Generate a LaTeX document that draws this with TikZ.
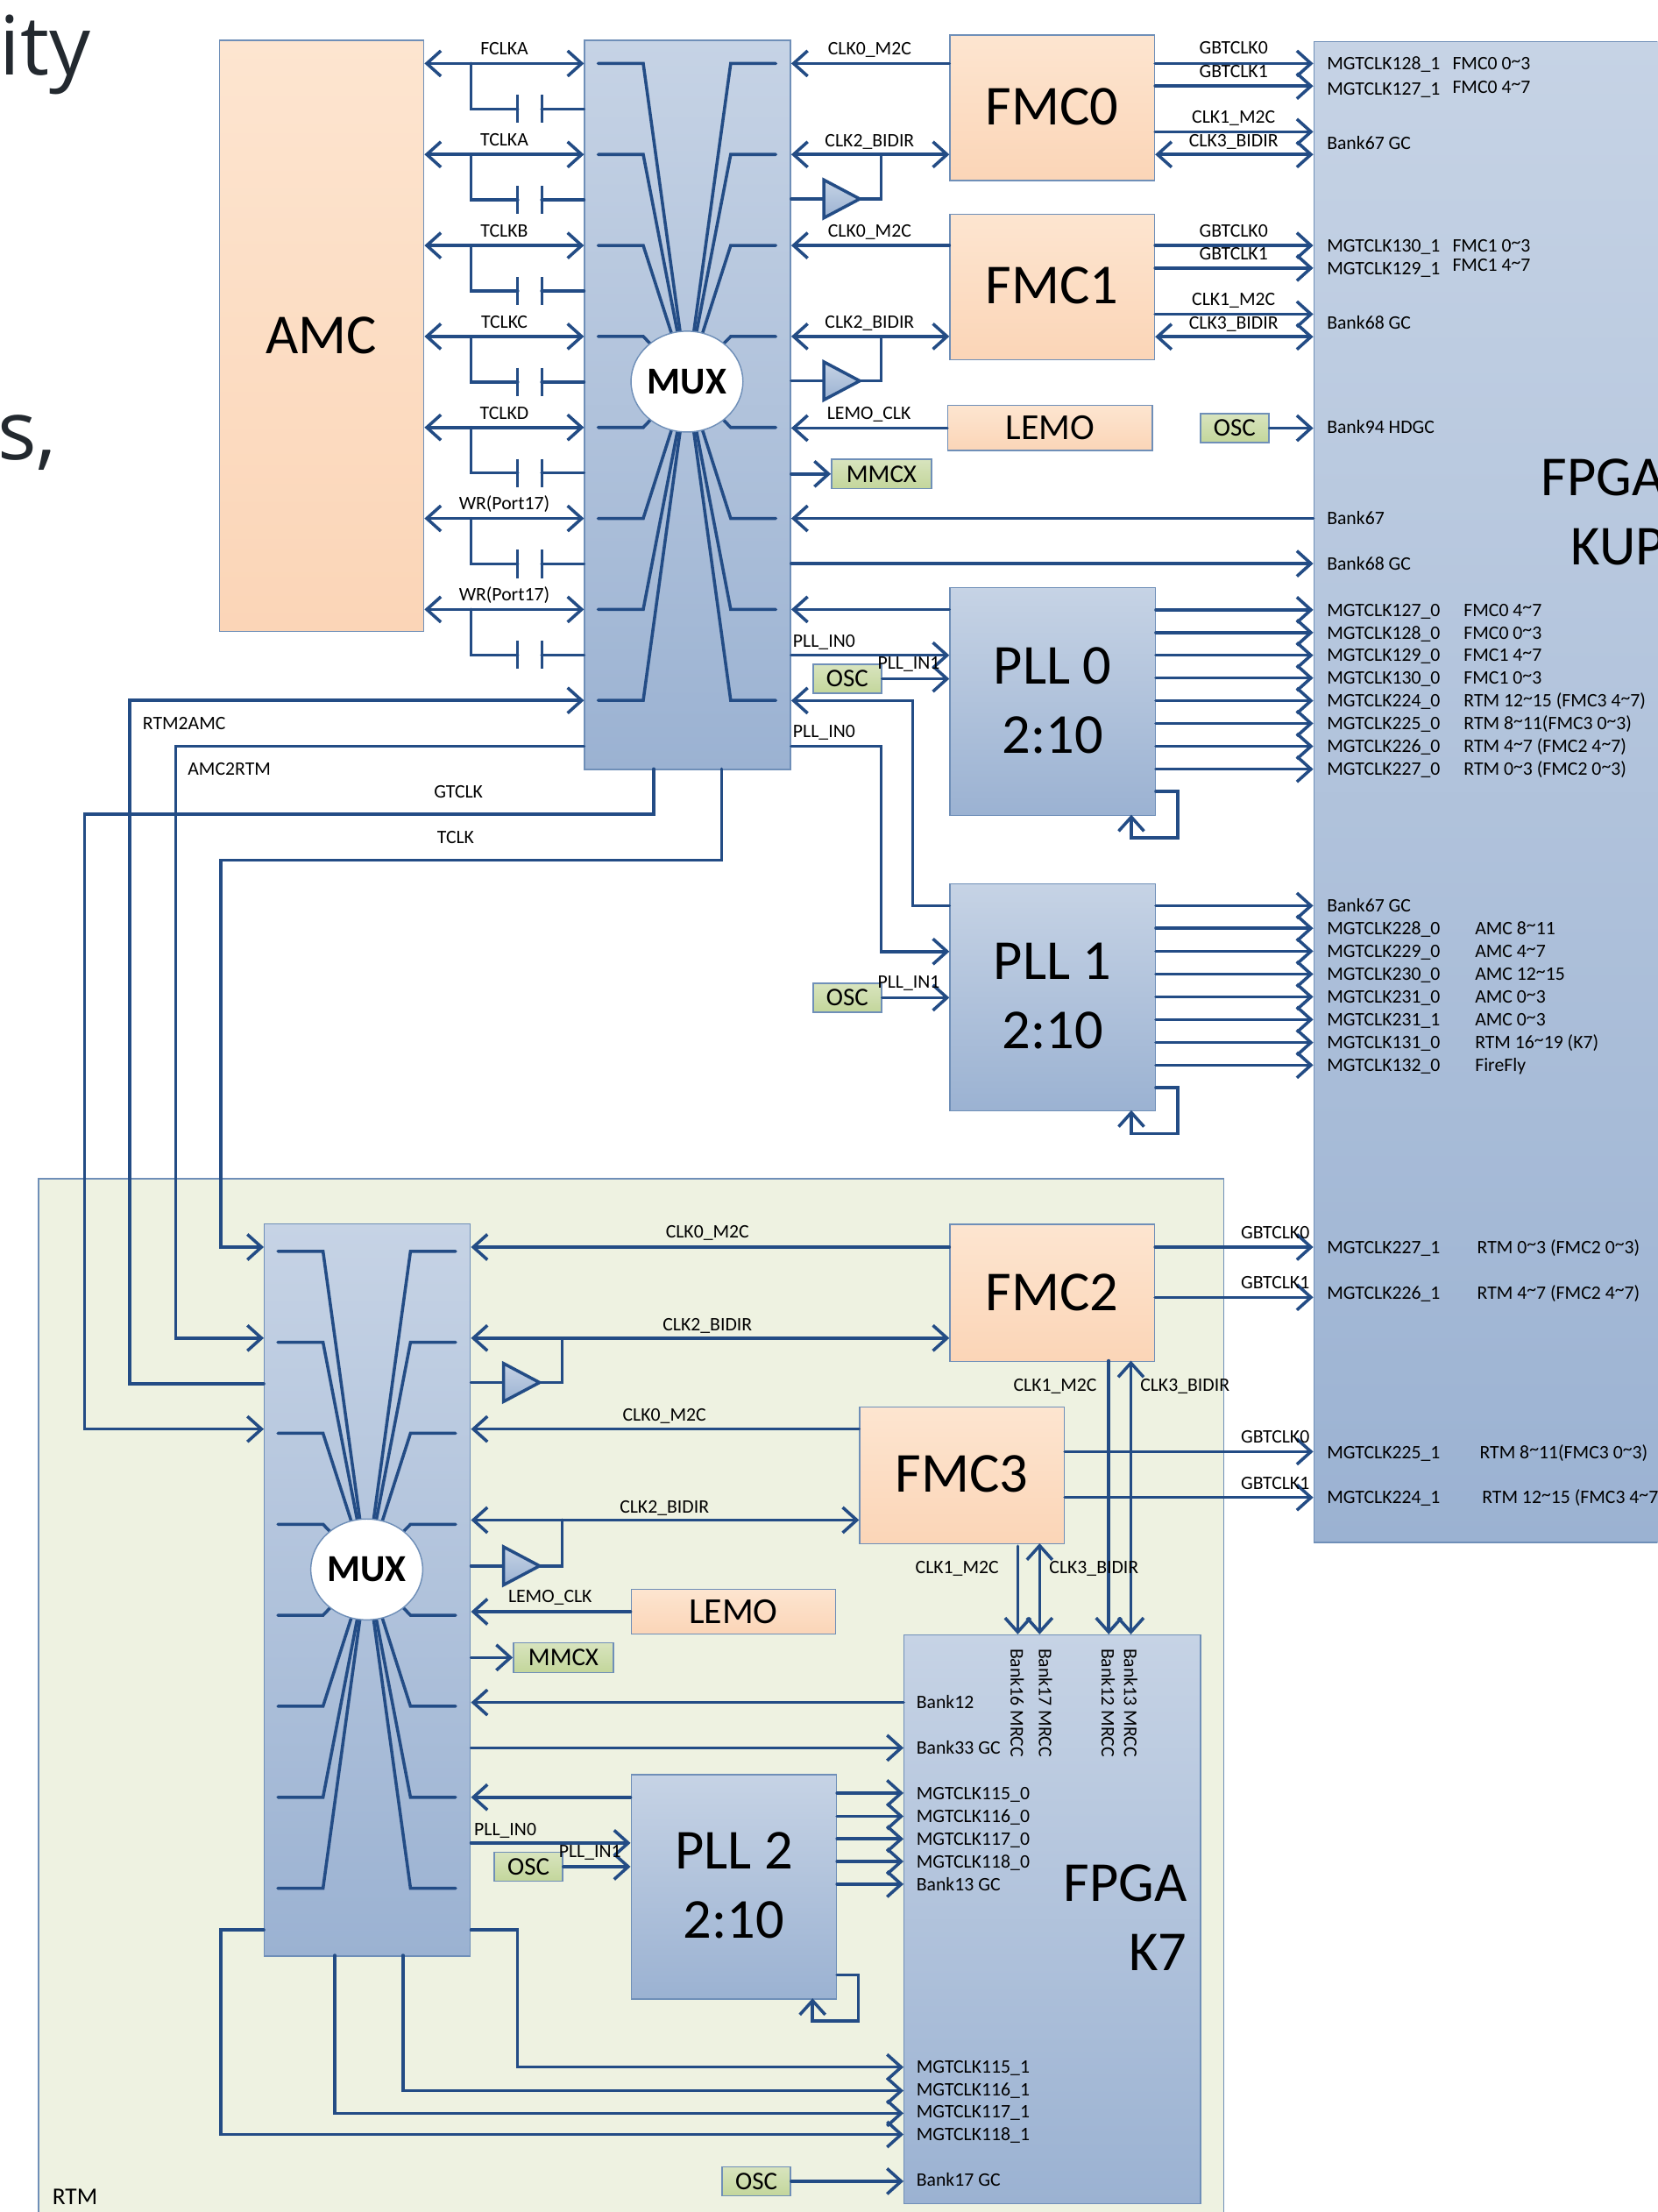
\documentclass[tikz,border=0pt]{standalone}
\usepackage{fontspec}
\setmainfont{Carlito}
\newfontfamily\slidefont{Open Sans}
\usetikzlibrary{arrows.meta,shapes.geometric}
\definecolor{clkblue}{HTML}{234C85}
\definecolor{boxedge}{HTML}{6F8FB8}
\definecolor{bluetop}{HTML}{C6D3E5}
\definecolor{bluebot}{HTML}{9BB2D2}
\definecolor{orangetop}{HTML}{FDE5D0}
\definecolor{orangebot}{HTML}{FBD5B7}
\definecolor{greentop}{HTML}{D8E4BE}
\definecolor{greenbot}{HTML}{C3D69B}
\definecolor{rtmgreen}{HTML}{EEF2E1}
\definecolor{slidetext}{HTML}{23292F}
\newcommand{\til}{\raisebox{2.2pt}{\textasciitilde}}
\tikzset{
 blk/.style={draw=boxedge,line width=0.9pt,inner sep=0pt,anchor=north west},
 bluebox/.style={blk,top color=bluetop,bottom color=bluebot,font=\fontsize{40}{49}\selectfont,align=center,text depth=2pt},
 orangebox/.style={blk,top color=orangetop,bottom color=orangebot,font=\fontsize{40}{49}\selectfont},
 greenbox/.style={blk,top color=greentop,bottom color=greenbot,font=\fontsize{18}{20}\selectfont},
 muxhub/.style={draw=boxedge,line width=0.9pt,fill=white,ellipse,inner sep=0pt,minimum width=79pt,minimum height=71.5pt,font=\fontsize{27}{30}\selectfont\bfseries},
 lab/.style={inner sep=0pt,text height=9pt,text depth=0pt,font=\fontsize{13.5}{16}\selectfont},
 labl/.style={lab,anchor=west},
 bigname/.style={inner sep=0pt,anchor=base west,font=\fontsize{40}{49}\selectfont},
 clkline/.style={draw=clkblue,line width=2.2pt,line cap=round},
 fanline/.style={clkline},
 capline/.style={draw=clkblue,line width=1.9pt},
 toclk/.style={clkline,-{Straight Barb[length=10pt,width=18pt]}},
 bothclk/.style={clkline,{Straight Barb[length=10pt,width=18pt]}-{Straight Barb[length=10pt,width=18pt]}},
 buftri/.style={draw=clkblue,line width=2.2pt,line join=miter,top color=bluetop,bottom color=bluebot},
}
\begin{document}
\begin{tikzpicture}[x=1pt,y=-1pt]
 \useasboundingbox (0,0) rectangle (1175,1568);
 \clip (0,0) rectangle (1175,1568);
 \node[inner sep=0pt,anchor=base west,text=slidetext,font=\fontsize{58}{60}\selectfont\slidefont] (slidea) at (-0.5,53) {ity};
 \node[inner sep=0pt,anchor=base west,text=slidetext,font=\fontsize{58}{60}\selectfont\slidefont] (slideb) at (-2,326) {s,};
 \node[blk,fill=rtmgreen,minimum width=840pt,minimum height=760pt] (rtm) at (27,835) {};
 \node[inner sep=0pt,anchor=west,font=\fontsize{17}{20}\selectfont] (rtmname) at (37,1557) {RTM};
 \node[orangebox,minimum width=145pt,minimum height=419pt] (amc) at (155,28) {AMC};
 \node[bluebox,minimum width=146pt,minimum height=517pt] (muxa) at (414,28) {};
 \node[bluebox,minimum width=146pt,minimum height=519pt] (muxb) at (187,867) {};
 \node[bluebox,minimum width=270pt,minimum height=1064pt] (fpgaa) at (931,29) {};
 \node[bluebox,minimum width=210pt,minimum height=403pt] (fpgab) at (640.5,1158.5) {};
 \node[orangebox,text depth=2pt,minimum width=145pt,minimum height=103pt] (fmca) at (673,24.5) {FMC0};
 \node[orangebox,text depth=2pt,minimum width=145pt,minimum height=103pt] (fmcb) at (673,151.5) {FMC1};
 \node[orangebox,minimum width=145pt,minimum height=97pt] (fmcc) at (673,867.5) {FMC2};
 \node[orangebox,text depth=2pt,minimum width=145pt,minimum height=97pt] (fmcd) at (609,997) {FMC3};
 \node[orangebox,font=\fontsize{26}{30}\selectfont,minimum width=145pt,minimum height=32pt] (lemoa) at (671.5,287) {LEMO};
 \node[orangebox,font=\fontsize{26}{30}\selectfont,minimum width=145pt,minimum height=32pt] (lemob) at (447,1126) {LEMO};
 \node[greenbox,minimum width=71pt,minimum height=21pt] (mmcxa) at (589,325) {MMCX};
 \node[greenbox,minimum width=71pt,minimum height=21pt] (mmcxb) at (363.5,1164) {MMCX};
 \node[greenbox,minimum width=48.5pt,minimum height=20.5pt] (osca) at (850.5,292.8) {OSC};
 \node[greenbox,minimum width=48.5pt,minimum height=20.5pt] (oscb) at (576,470.5) {OSC};
 \node[greenbox,minimum width=48.5pt,minimum height=20.5pt] (oscc) at (576,696.5) {OSC};
 \node[greenbox,minimum width=48.5pt,minimum height=20.5pt] (oscd) at (350,1312.5) {OSC};
 \node[greenbox,minimum width=48.5pt,minimum height=20.5pt] (osce) at (511.5,1535.5) {OSC};
 \node[bluebox,minimum width=145.5pt,minimum height=161.5pt] (plla) at (673,416) {PLL 0\\2:10};
 \node[bluebox,minimum width=145.5pt,minimum height=161pt] (pllb) at (673,626) {PLL 1\\2:10};
 \node[bluebox,minimum width=145.5pt,minimum height=159pt] (pllc) at (447,1257.5) {PLL 2\\2:10};
 \node[bigname] (fpgaaname) at (1092.5,351.6) {FPGA};
 \node[bigname] (fpgaakind) at (1113.5,400.6) {KUP};
 \node[bigname,anchor=base east] (fpgabname) at (841.5,1348) {FPGA};
 \node[bigname,anchor=base east] (fpgabkind) at (841.5,1397) {K7};

 \foreach \cx/\cy/\ry in {487/270.5/45,260/1112.5/887}{
  \foreach \k in {0,...,7}{
   \pgfmathsetmacro\yy{\ry+64.5*\k}
   \draw[fanline] (\cx-63,\yy) -- (\cx-31,\yy) -- (\cx,\cy);
   \draw[fanline] (\cx+63,\yy) -- (\cx+31,\yy) -- (\cx,\cy);
  }
 }
 \node[muxhub] (huba) at (487,270.5) {MUX};
 \node[muxhub] (hubb) at (260,1112.5) {MUX};

 \foreach \y/\t [count=\i] in {45/FCLKA,109.5/TCLKA,174/TCLKB,238.5/TCLKC,303/TCLKD,367.5/WR(Port17),432/WR(Port17)}{
  \draw[bothclk] (amc.east |- 0,\y) -- (muxa.west |- 0,\y);
  \draw[clkline] (334,\y) |- (367,\y+32.25);
  \draw[capline] (367,\y+22.25) -- (367,\y+42.25);
  \draw[capline] (384,\y+22.25) -- (384,\y+42.25);
  \draw[clkline] (384,\y+32.25) -- (muxa.west |- 0,\y+32.25);
  \node[lab] (amclab\i) at (357.5,\y-10.5) {\t};
 }

 \draw[toclk] (fmca.west |- 0,45) -- (muxa.east |- 0,45);
 \draw[bothclk] (muxa.east |- 0,109.5) -- (fmca.west |- 0,109.5);
 \draw[toclk] (fmcb.west |- 0,174) -- (muxa.east |- 0,174);
 \draw[bothclk] (muxa.east |- 0,238.5) -- (fmcb.west |- 0,238.5);
 \draw[toclk] (lemoa.west) -- (muxa.east |- lemoa.west);
 \draw[toclk] (muxa.east |- mmcxa.west) -- (mmcxa.west);
 \draw[toclk] (fpgaa.west |- 0,367.5) -- (muxa.east |- 0,367.5);
 \draw[toclk] (muxa.east |- 0,399.5) -- (fpgaa.west |- 0,399.5);
 \draw[toclk] (plla.west |- 0,432) -- (muxa.east |- 0,432);
 \draw[toclk] (muxa.east |- 0,464.5) -- (plla.west |- 0,464.5);
 \draw[toclk] (oscb.east) -- (plla.west |- oscb.east);
 \draw[toclk] (pllb.west |- 0,642) -| (647,496.6) -- (muxa.east |- 0,496.6);
 \draw[toclk] (muxa.east |- 0,529) -| (624.6,674.5) -- (pllb.west |- 0,674.5);
 \draw[toclk] (oscc.east) -- (pllb.west |- oscc.east);

 \draw[toclk] (muxb.west |- 0,980.8) -| (92,496.5) -- (muxa.west |- 0,496.5);
 \draw[toclk] (muxa.west |- 0,529) -| (124.5,948.5) -- (muxb.west |- 0,948.5);
 \draw[toclk] (463.4,545) |- (59.9,577) |- (muxb.west |- 0,1013);
 \draw[toclk] (511.7,545) |- (156.6,609.7) |- (muxb.west |- 0,884);

 \draw[toclk] (fmcc.west |- 0,884) -- (muxb.east |- 0,884);
 \draw[bothclk] (muxb.east |- 0,948.5) -- (fmcc.west |- 0,948.5);
 \draw[toclk] (fmcd.west |- 0,1013) -- (muxb.east |- 0,1013);
 \draw[bothclk] (muxb.east |- 0,1077.5) -- (fmcd.west |- 0,1077.5);
 \draw[toclk] (lemob.west) -- (muxb.east |- lemob.west);
 \draw[toclk] (muxb.east |- mmcxb.west) -- (mmcxb.west);
 \draw[toclk] (fpgab.west |- 0,1206.8) -- (muxb.east |- 0,1206.8);
 \draw[toclk] (muxb.east |- 0,1239) -- (fpgab.west |- 0,1239);
 \draw[toclk] (pllc.west |- 0,1274) -- (muxb.east |- 0,1274);
 \draw[toclk] (muxb.east |- 0,1306.4) -- (pllc.west |- 0,1306.4);
 \draw[toclk] (oscd.east) -- (pllc.west |- oscd.east);
 \draw[toclk] (muxb.west |- 0,1368) -| (156.7,1513) -- (fpgab.west |- 0,1513);
 \draw[toclk] (237.4,1386) |- (fpgab.west |- 0,1498);
 \draw[toclk] (285.6,1386) |- (fpgab.west |- 0,1482);
 \draw[toclk] (muxb.east |- 0,1368) -| (366.8,1465.3) -- (fpgab.west |- 0,1465.3);
 \draw[toclk] (osce.east) -- (fpgab.west |- osce.east);

 \foreach \bx/\by/\n/\tx/\ty/\from in {584/141/bufa/624.6/109.5/muxa.east,584/270/bufb/624.6/238.5/muxa.east,357/980/bufc/398.5/948.5/muxb.east,357/1110/bufd/398.5/1077.5/muxb.east}{
  \draw[clkline] (\from |- 0,\by) -- (\bx,\by);
  \draw[clkline] (\bx+25,\by) -| (\tx,\ty);
  \draw[buftri] (\bx,\by-13.5) -- (\bx+25.5,\by) -- (\bx,\by+13.5) -- cycle;
 }

 \foreach \y in {45,61,93.4,174,190,222.7}{
  \draw[toclk] (fmca.east |- 0,\y) -- (fpgaa.west |- 0,\y);
 }
 \draw[bothclk] (fmca.east |- 0,109.5) -- (fpgaa.west |- 0,109.5);
 \draw[bothclk] (fmcb.east |- 0,238.7) -- (fpgaa.west |- 0,238.7);
 \draw[toclk] (osca.east) -- (fpgaa.west |- osca.east);
 \foreach \y in {432.3,448.4,464.5,480.6,496.7,512.8,529,545.2}{
  \draw[toclk] (plla.east |- 0,\y) -- (fpgaa.west |- 0,\y);
 }
 \foreach \y in {642,658,674.3,690.5,706.6,722.7,739,755}{
  \draw[toclk] (pllb.east |- 0,\y) -- (fpgaa.west |- 0,\y);
 }
 \foreach \y in {1271,1287.5,1303.5,1319.5,1335.6}{
  \draw[toclk] (pllc.east |- 0,\y) -- (fpgab.west |- 0,\y);
 }
 \draw[toclk] (plla.east |- 0,561) -| (834.8,594) -| (802,577.5);
 \draw[toclk] (pllb.east |- 0,771) -| (834.8,803.6) -| (802,787);
 \draw[toclk] (pllc.east |- 0,1400) -| (608.6,1432.7) -| (576,1416.5);

 \draw[toclk] (fmcc.east |- 0,884) -- (fpgaa.west |- 0,884);
 \draw[toclk] (fmcc.east |- 0,919.6) -- (fpgaa.west |- 0,919.6);
 \draw[toclk] (fmcd.east |- 0,1029) -- (fpgaa.west |- 0,1029);
 \draw[toclk] (fmcd.east |- 0,1061.5) -- (fpgaa.west |- 0,1061.5);
 \draw[toclk] (786,964.5) -- (786,1158.5);
 \draw[bothclk] (801.7,964.5) -- (801.7,1158.5);
 \draw[toclk] (721.5,1096) -- (721.5,1158.5);
 \draw[bothclk] (737,1094) -- (737,1158.5);

 \foreach \x/\y/\t [count=\i] in {616.5/34.4/CLK0\_M2C,616.5/99.6/CLK2\_BIDIR,616.5/163.6/CLK0\_M2C,616.5/228/CLK2\_BIDIR,616/292.5/LEMO\_CLK,
   874.5/34/GBTCLK0,874.5/50.5/GBTCLK1,874.5/82.9/CLK1\_M2C,874.5/99.5/CLK3\_BIDIR,874.5/163.5/GBTCLK0,874.5/179.5/GBTCLK1,874.5/212/CLK1\_M2C,874.5/228.6/CLK3\_BIDIR,
   325/561/GTCLK,323/593.6/TCLK,
   501.5/873/CLK0\_M2C,501.5/938.8/CLK2\_BIDIR,471/1002.7/CLK0\_M2C,471/1067.8/CLK2\_BIDIR,390/1131.5/LEMO\_CLK,
   904/873.5/GBTCLK0,904/909/GBTCLK1,904/1018.6/GBTCLK0,904/1051/GBTCLK1,
   748/982/CLK1\_M2C,840/982/CLK3\_BIDIR,678.5/1111/CLK1\_M2C,775.5/1111/CLK3\_BIDIR}{
  \node[lab] (clklab\i) at (\x,\y) {\t};
 }
 \foreach \x/\y/\t [count=\i] in {562/454/PLL\_IN0,622/470/PLL\_IN1,562/518/PLL\_IN0,622/696/PLL\_IN1,336/1296.5/PLL\_IN0,396/1312/PLL\_IN1,101/512.7/RTM2AMC,133/545/AMC2RTM}{
  \node[labl] (inlab\i) at (\x,\y) {\t};
 }
 \foreach \y/\t [count=\i] in {44.8/MGTCLK128\_1,62.9/MGTCLK127\_1,101.4/Bank67 GC,174/MGTCLK130\_1,190/MGTCLK129\_1,228.8/Bank68 GC,302.7/Bank94 HDGC,367.3/Bank67,399.6/Bank68 GC,
   432.3/MGTCLK127\_0,448.4/MGTCLK128\_0,464.5/MGTCLK129\_0,480.6/MGTCLK130\_0,496.7/MGTCLK224\_0,512.8/MGTCLK225\_0,529/MGTCLK226\_0,545.2/MGTCLK227\_0,
   642/Bank67 GC,658/MGTCLK228\_0,674.3/MGTCLK229\_0,690.5/MGTCLK230\_0,706.6/MGTCLK231\_0,722.7/MGTCLK231\_1,739/MGTCLK131\_0,755/MGTCLK132\_0,
   884/MGTCLK227\_1,916.4/MGTCLK226\_1,1029.3/MGTCLK225\_1,1061.5/MGTCLK224\_1}{
  \node[labl] (pina\i) at (940.5,\y) {\t};
 }
 \foreach \x/\y/\t [count=\i] in {1029.5/45/FMC0 0\til3,1029.5/61.5/FMC0 4\til7,1029.5/174/FMC1 0\til3,1029.5/188/FMC1 4\til7,
   1037.5/432.3/FMC0 4\til7,1037.5/448.4/FMC0 0\til3,1037.5/464.5/FMC1 4\til7,1037.5/480.6/FMC1 0\til3,
   1037.5/496.7/RTM 12\til15 (FMC3 4\til7),1037.5/512.8/RTM 8\til11(FMC3 0\til3),1037.5/529/RTM 4\til7 (FMC2 4\til7),1037.5/545.2/RTM 0\til3 (FMC2 0\til3),
   1045.5/658/AMC 8\til11,1045.5/674.3/AMC 4\til7,1045.5/690.5/AMC 12\til15,1045.5/706.6/AMC 0\til3,1045.5/722.7/AMC 0\til3,1045.5/739/RTM 16\til19 (K7),1045.5/755/FireFly,
   1047/884/RTM 0\til3 (FMC2 0\til3),1047/916.4/RTM 4\til7 (FMC2 4\til7),1048.8/1029.3/RTM 8\til11(FMC3 0\til3),1050.5/1061.5/RTM 12\til15 (FMC3 4\til7)}{
  \node[labl] (usea\i) at (\x,\y) {\t};
 }
 \foreach \y/\t [count=\i] in {1206.8/Bank12,1239/Bank33 GC,1271/MGTCLK115\_0,1287.5/MGTCLK116\_0,1303.5/MGTCLK117\_0,1319.5/MGTCLK118\_0,1335.6/Bank13 GC,
   1465.3/MGTCLK115\_1,1481/MGTCLK116\_1,1497/MGTCLK117\_1,1513/MGTCLK118\_1,1545.4/Bank17 GC}{
  \node[labl] (pinb\i) at (649.5,\y) {\t};
 }
 \foreach \x/\t [count=\i] in {721/Bank16 MRCC,741/Bank17 MRCC,785.5/Bank12 MRCC,801.5/Bank13 MRCC}{
  \node[lab,rotate=-90] (mrcc\i) at (\x,1207) {\t};
 }
\end{tikzpicture}
\end{document}
